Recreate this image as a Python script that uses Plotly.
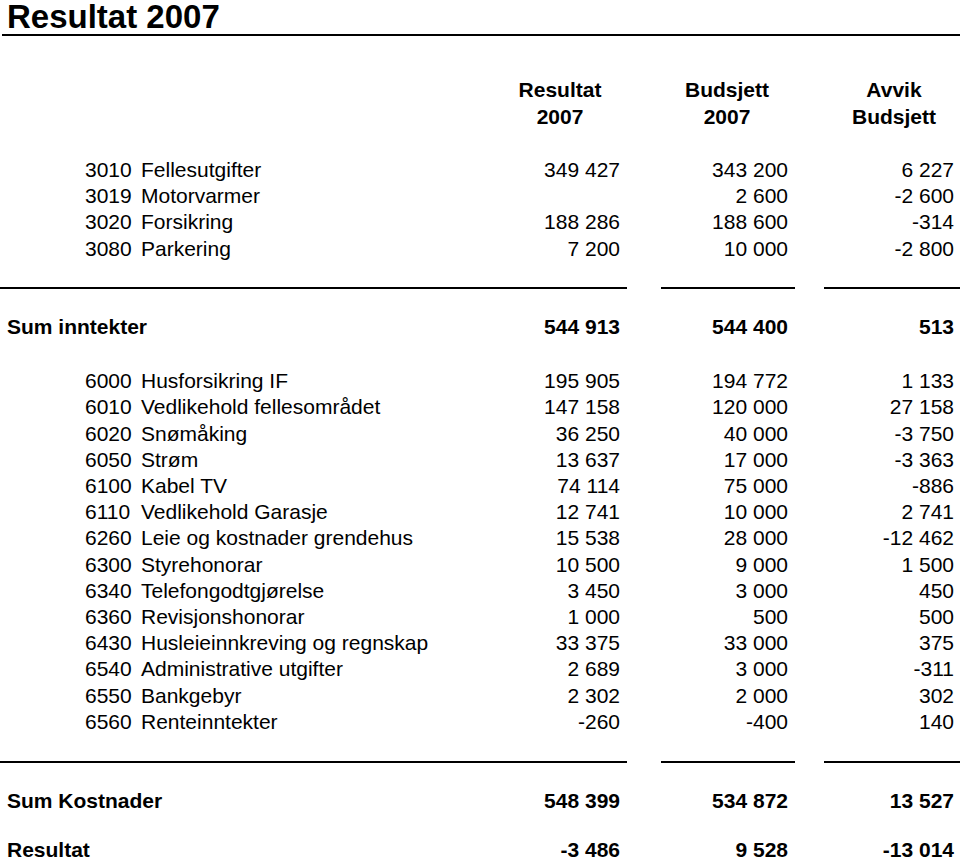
import plotly.graph_objects as go

title = "Resultat 2007"
col_heads = [("Resultat", "2007"), ("Budsjett", "2007"), ("Avvik", "Budsjett")]

inc_codes = ["3010", "3019", "3020", "3080"]
inc_names = ["Fellesutgifter", "Motorvarmer", "Forsikring", "Parkering"]
inc_res = [349427, None, 188286, 7200]
inc_bud = [343200, 2600, 188600, 10000]
inc_avv = [6227, -2600, -314, -2800]

sum_inc_label = "Sum inntekter"
sum_inc = [544913, 544400, 513]

cost_codes = ["6000", "6010", "6020", "6050", "6100", "6110", "6260", "6300",
              "6340", "6360", "6430", "6540", "6550", "6560"]
cost_names = ["Husforsikring IF", "Vedlikehold fellesområdet", "Snømåking", "Strøm",
              "Kabel TV", "Vedlikehold Garasje", "Leie og kostnader grendehus",
              "Styrehonorar", "Telefongodtgjørelse", "Revisjonshonorar",
              "Husleieinnkreving og regnskap", "Administrative utgifter",
              "Bankgebyr", "Renteinntekter"]
cost_res = [195905, 147158, 36250, 13637, 74114, 12741, 15538, 10500, 3450, 1000,
            33375, 2689, 2302, -260]
cost_bud = [194772, 120000, 40000, 17000, 75000, 10000, 28000, 9000, 3000, 500,
            33000, 3000, 2000, -400]
cost_avv = [1133, 27158, -3750, -3363, -886, 2741, -12462, 1500, 450, 500,
            375, -311, 302, 140]

sum_cost_label = "Sum Kostnader"
sum_cost = [548399, 534872, 13527]
result_label = "Resultat"
result = [-3486, 9528, -13014]


def fmt(v):
    if v is None:
        return ""
    s = f"{abs(v):,}".replace(",", " ")
    return ("-" if v < 0 else "") + s


FONT = "Liberation Sans, Arial, sans-serif"
FS = 21
W, H = 960, 862

# layout geometry
col_right = [620, 788, 954]
col_center = [560, 727, 894]
code_x = 85
name_x = 141
sum_x = 7
inc_y0, inc_step = 172, 26.1
cost_y0, cost_step = 383, 26.2
head_y = [92, 119]
sum_inc_y = 329
sum_cost_y = 803
result_y = 852
line1_y = 288
line2_y = 762
seg = [(0, 627), (661, 795), (824, 960)]

fig = go.Figure()


def text_trace(xs, ys, texts, pos, bold=False, size=FS):
    fig.add_trace(go.Scatter(
        x=xs, y=ys, text=[f"<b>{t}</b>" if bold and t else t for t in texts],
        mode="text", textposition=pos,
        textfont=dict(family=FONT, size=size, color="black"),
        hoverinfo="skip", showlegend=False, cliponaxis=False))


# title
text_trace([7], [20], [title], "middle right", bold=True, size=33)

# column headers
for i, (a, b) in enumerate(col_heads):
    text_trace([col_center[i], col_center[i]], head_y, [a, b], "middle center", bold=True)

# income rows
inc_y = [inc_y0 + i * inc_step for i in range(len(inc_codes))]
text_trace([code_x] * len(inc_y), inc_y, inc_codes, "middle right")
text_trace([name_x] * len(inc_y), inc_y, inc_names, "middle right")
for c, vals in enumerate([inc_res, inc_bud, inc_avv]):
    text_trace([col_right[c]] * len(inc_y), inc_y, [fmt(v) for v in vals], "middle left")

# sum income
text_trace([sum_x], [sum_inc_y], [sum_inc_label], "middle right", bold=True)
for c in range(3):
    text_trace([col_right[c]], [sum_inc_y], [fmt(sum_inc[c])], "middle left", bold=True)

# cost rows
cost_y = [cost_y0 + i * cost_step for i in range(len(cost_codes))]
text_trace([code_x] * len(cost_y), cost_y, cost_codes, "middle right")
text_trace([name_x] * len(cost_y), cost_y, cost_names, "middle right")
for c, vals in enumerate([cost_res, cost_bud, cost_avv]):
    text_trace([col_right[c]] * len(cost_y), cost_y, [fmt(v) for v in vals], "middle left")

# sum cost and result
text_trace([sum_x], [sum_cost_y], [sum_cost_label], "middle right", bold=True)
text_trace([sum_x], [result_y], [result_label], "middle right", bold=True)
for c in range(3):
    text_trace([col_right[c]], [sum_cost_y], [fmt(sum_cost[c])], "middle left", bold=True)
    text_trace([col_right[c]], [result_y], [fmt(result[c])], "middle left", bold=True)

shapes = [dict(type="line", xref="x", yref="y", x0=2, x1=960, y0=35, y1=35,
               line=dict(color="black", width=2))]
for ly in (line1_y, line2_y):
    for x0, x1 in seg:
        shapes.append(dict(type="line", xref="x", yref="y", x0=x0, x1=x1, y0=ly, y1=ly,
                           line=dict(color="black", width=2)))

fig.update_layout(
    width=W, height=H, margin=dict(l=0, r=0, t=0, b=0),
    paper_bgcolor="white", plot_bgcolor="white",
    xaxis=dict(range=[0, W], visible=False, fixedrange=True),
    yaxis=dict(range=[H, 0], visible=False, fixedrange=True),
    shapes=shapes, showlegend=False,
)

fig.write_html("out.html", config={"displayModeBar": False},
               post_script="document.body.style.margin='0';document.body.style.overflow='hidden';")
